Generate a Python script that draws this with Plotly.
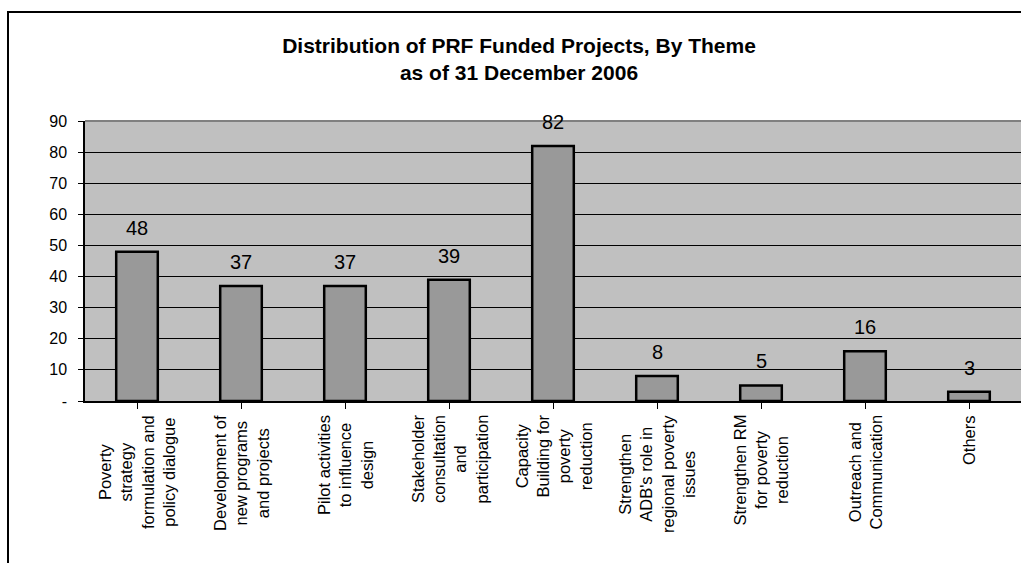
import plotly.graph_objects as go

categories = [
    "Poverty<br>strategy<br>formulation and<br>policy dialogue",
    "Development of<br>new programs<br>and projects",
    "Pilot activities<br>to influence<br>design",
    "Stakeholder<br>consultation<br>and<br>participation",
    "Capacity<br>Building for<br>poverty<br>reduction",
    "Strengthen<br>ADB's role in<br>regional poverty<br>issues",
    "Strengthen RM<br>for poverty<br>reduction",
    "Outreach and<br>Communication",
    "Others",
]
values = [48, 37, 37, 39, 82, 8, 5, 16, 3]
ytick_vals = [0, 10, 20, 30, 40, 50, 60, 70, 80, 90]
ytick_text = ["-", "10", "20", "30", "40", "50", "60", "70", "80", "90"]

FONT = "Liberation Sans, Arial, sans-serif"
W, H = 1021, 563
ML, MR, MT, MB = 85, 0, 121, 162
PW, PH = W - ML - MR, H - MT - MB

xs = list(range(len(categories)))

fig = go.Figure()
fig.add_trace(go.Bar(
    x=xs, y=values,
    marker=dict(color="#999999", line=dict(color="#000000", width=2.5)),
    hoverinfo="skip",
))

annotations = []
# data labels
for x, v in zip(xs, values):
    annotations.append(dict(
        x=x, y=v, xref="x", yref="y", text=str(v), showarrow=False,
        yanchor="middle", yshift=24, font=dict(family=FONT, size=20, color="#000"),
    ))
# category labels (rotated, centered lines)
for x, c in zip(xs, categories):
    annotations.append(dict(
        x=x, y=0, xref="x", yref="paper", text=c, showarrow=False,
        xanchor="center", yanchor="top", yshift=-12, textangle=-90, align="center",
        font=dict(family=FONT, size=16.5, color="#000"),
    ))

fx0 = (8 - ML) / PW
fy_top = 1 + (MT - 12) / PH
fy_bot = -(MB + 20) / PH

shapes = [
    dict(type="line", xref="paper", yref="paper", x0=0, x1=1, y0=1, y1=1,
         line=dict(color="#808080", width=2)),
    dict(type="path", xref="paper", yref="paper",
         path=f"M {fx0} {fy_bot} L {fx0} {fy_top} L 1.05 {fy_top}",
         line=dict(color="#000000", width=2)),
]

fig.update_layout(
    width=W, height=H,
    margin=dict(l=ML, r=MR, t=MT, b=MB, pad=0),
    paper_bgcolor="#FFFFFF",
    plot_bgcolor="#C0C0C0",
    showlegend=False,
    bargap=0.6,
    title=dict(
        text="<b>Distribution of PRF Funded Projects, By Theme<br>as of 31 December 2006</b>",
        x=519 / W, xref="container", xanchor="center",
        y=1 - 53 / H, yref="container", yanchor="middle",
        font=dict(family=FONT, size=21, color="#000"),
    ),
    xaxis=dict(
        range=[-0.5, len(categories) - 0.5],
        tickvals=xs, ticktext=[""] * len(xs), showticklabels=False,
        tickson="boundaries", ticks="outside", ticklen=6, tickcolor="#000", tickwidth=1,
        showline=True, linecolor="#000", linewidth=2, showgrid=False, zeroline=False,
        fixedrange=True,
    ),
    yaxis=dict(
        range=[0, 90], tickvals=ytick_vals, ticktext=ytick_text,
        ticks="outside", ticklen=5, tickcolor="#000", tickwidth=1,
        ticklabelstandoff=8,
        showline=True, linecolor="#000", linewidth=1.5,
        showgrid=True, gridcolor="#000000", gridwidth=1, zeroline=False,
        tickfont=dict(family=FONT, size=16, color="#000"),
        fixedrange=True,
    ),
    annotations=annotations,
    shapes=shapes,
)

fig.write_html(
    "out.html",
    config={"displayModeBar": False},
    post_script="document.body.style.margin='0';document.body.style.overflow='hidden';",
)
